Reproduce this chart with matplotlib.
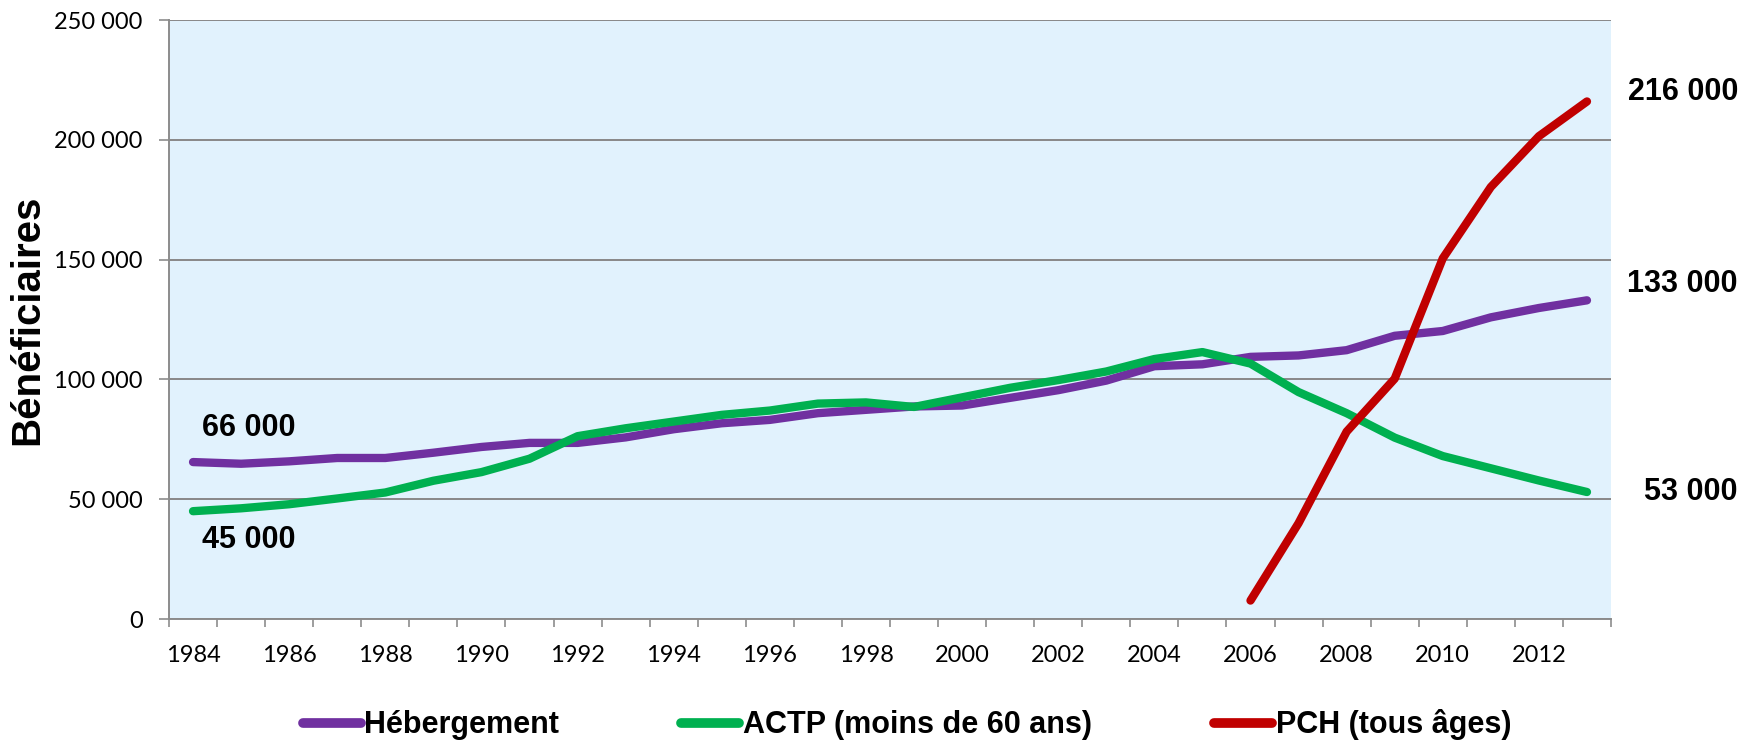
import matplotlib
matplotlib.use("Agg")
import matplotlib.pyplot as plt
import numpy as np

years = list(range(1984, 2014))
hebergement = [65500, 64800, 65800, 67200, 67200, 69400, 71800, 73500, 73500, 75800,
               79200, 81700, 83100, 85900, 87300, 88700, 89100, 92300, 95500, 99500,
               105500, 106300, 109400, 110000, 112200, 118200, 120200, 125900, 129800, 133000]
actp = [45000, 46200, 47900, 50300, 52800, 57700, 61300, 66900, 76300, 79600,
        82400, 85200, 87000, 89900, 90400, 88500, 92500, 96500, 99700, 103300,
        108500, 111400, 106600, 94700, 85900, 75700, 68000, 62900, 57800, 53000]
pch_years = [2006, 2007, 2008, 2009, 2010, 2011, 2012, 2013]
pch = [7700, 40000, 78200, 100300, 150500, 180300, 201500, 216000]

series_names = ["Hébergement", "ACTP (moins de 60 ans)", "PCH (tous âges)"]
colors = ["#7030A0", "#00B050", "#C00000"]
yticks = [0, 50000, 100000, 150000, 200000, 250000]
ytick_labels = ["0", "50 000", "100 000", "150 000", "200 000", "250 000"]

tick_font = ["Lato", "DejaVu Sans"]
bold_font = ["Liberation Sans", "DejaVu Sans"]

fig = plt.figure(figsize=(17.46, 7.48), dpi=100)
ax = fig.add_axes([169/1746, 1-619/748, (1611-169)/1746, (619-20)/748])
ax.set_facecolor("#E1F2FD")

x = np.arange(len(years))
px = np.array([years.index(y) for y in pch_years])
lw = 6
l1, = ax.plot(x, hebergement, color=colors[0], lw=lw, solid_capstyle="round", solid_joinstyle="round", zorder=3)
l2, = ax.plot(x, actp, color=colors[1], lw=lw, solid_capstyle="round", solid_joinstyle="round", zorder=4)
l3, = ax.plot(px, pch, color=colors[2], lw=lw, solid_capstyle="round", solid_joinstyle="round", zorder=5)

ax.set_xlim(-0.5, len(years) - 0.5)
ax.set_ylim(0, 250000)

ax.set_yticks(yticks)
ax.set_yticklabels(ytick_labels, fontfamily=tick_font, fontsize=17)
ax.tick_params(axis="y", length=7, width=1.2, color="#8C8C8C", pad=12)

major = [i for i, y in enumerate(years) if y % 2 == 0]
ax.set_xticks(major)
ax.set_xticklabels([str(years[i]) for i in major], fontfamily=tick_font, fontsize=17)
ax.tick_params(axis="x", which="major", length=0, pad=19)
ax.set_xticks(np.arange(-0.5, len(years)), minor=True)
ax.tick_params(axis="x", which="minor", length=6, width=1.2, color="#8C8C8C")

ax.grid(axis="y", color="#888888", lw=1.4, zorder=1)
ax.set_axisbelow(True)
for s in ["top", "right"]:
    ax.spines[s].set_visible(False)
for s in ["left", "bottom"]:
    ax.spines[s].set_color("#8C8C8C")
    ax.spines[s].set_linewidth(1.4)

ax.set_ylabel("Bénéficiaires", fontfamily=bold_font, fontweight="bold", fontsize=29)
ax.yaxis.set_label_coords(-0.085, 0.5)

ann_kw = dict(textcoords="offset pixels", fontfamily=bold_font, fontweight="bold",
              fontsize=22, va="center")
last = len(years) - 1
ax.annotate("216 000", xy=(px[-1], pch[-1]), xytext=(151, 9), ha="right", **ann_kw)
ax.annotate("133 000", xy=(last, hebergement[-1]), xytext=(151, 16), ha="right", **ann_kw)
ax.annotate("53 000", xy=(last, actp[-1]), xytext=(151, 0), ha="right", **ann_kw)
ax.annotate("66 000", xy=(0, hebergement[0]), xytext=(9, 34), ha="left", **ann_kw)
ax.annotate("45 000", xy=(0, actp[0]), xytext=(9, -29), ha="left", **ann_kw)

leg = fig.legend([l1, l2, l3], series_names, loc="center",
                 bbox_to_anchor=(907/1746, 1-725/748), ncol=3, frameon=False,
                 handlelength=1.9, handletextpad=0.12, columnspacing=4.0,
                 prop=dict(family=bold_font, weight="bold", size=22))
for h in leg.get_lines():
    h.set_linewidth(7)
    h.set_solid_capstyle("round")

fig.savefig("out.png", dpi=100)
